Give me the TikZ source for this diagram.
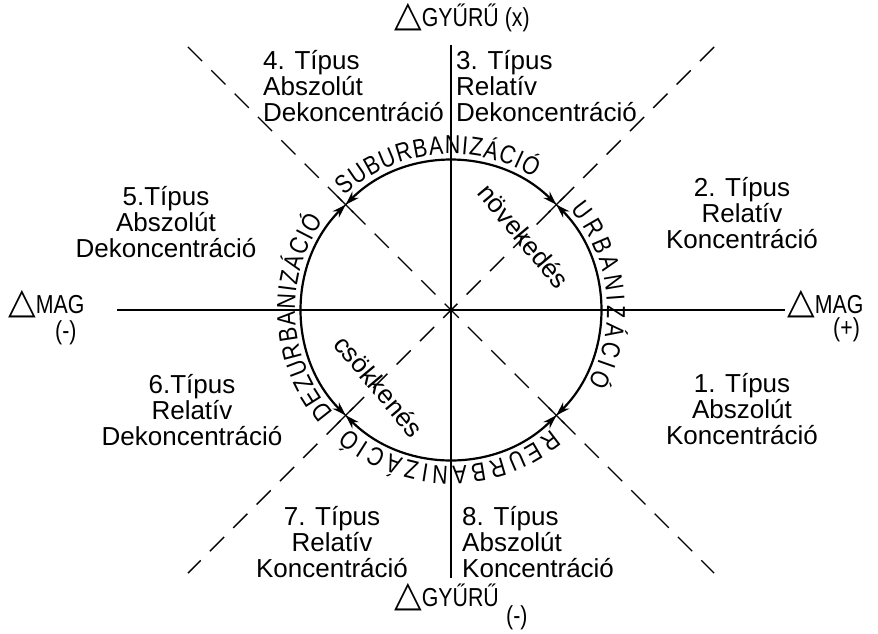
\documentclass[tikz,border=0pt]{standalone}
\usepackage{fontspec}
\setmainfont{Liberation Sans}
\newfontfamily\dejavu{DejaVu Sans}
\newfontfamily\arcfam{Liberation Sans}[FakeStretch=0.82]
\usetikzlibrary{arrows.meta,decorations.text,calc}
\newcommand\lblfont{\fontsize{26}{26}\selectfont}
\newcommand\arcfont{\arcfam\fontsize{26}{26}\selectfont}
\newcommand\axfont{\arcfam\fontsize{26}{26}\selectfont}
\newcommand\tri{{\dejavu\fontsize{36}{36}\selectfont △}}
\begin{document}
\begin{tikzpicture}[x=1pt,y=1pt,
  thinline/.style={line width=1.3pt},
  circ/.style={line width=2.2pt},
  dashline/.style={line width=1.4pt, dash pattern=on 20pt off 13pt},
  twoway/.style={circ,{Stealth[length=14pt,width=9pt]}-{Stealth[length=14pt,width=9pt]}},
  lbl/.style={inner sep=0pt, font=\lblfont},
  ax/.style={inner sep=0pt, font=\axfont, anchor=base west},
  arctext/.style={decorate, decoration={text along path, text align=fit to path}},
]
\useasboundingbox (0,0) rectangle (878,-633);
\coordinate (O) at (451,-310);
% axes
\coordinate (hl) at (117,-310);
\coordinate (hr) at (785,-310);
\coordinate (vt) at (451,-45);
\coordinate (vb) at (451,-578);
\draw[thinline] (hl) -- (hr);
\draw[thinline] (vt) -- (vb);
% diagonals
\coordinate (dNW) at ($(O)+(135:372)$);
\coordinate (dSE) at ($(O)+(-45:372)$);
\coordinate (dNE) at ($(O)+(45:372)$);
\coordinate (dSW) at ($(O)+(225:372)$);
\draw[dashline] (dNW) -- (dSE);
\draw[dashline] (dNE) -- (dSW);
\begin{scope}[shift={(O)}]
  \draw[twoway] (45:149) arc[start angle=45,end angle=135,radius=149];
  \draw[twoway] (135:149) arc[start angle=135,end angle=225,radius=149];
  \draw[twoway] (225:149) arc[start angle=225,end angle=315,radius=149];
  \draw[twoway] (315:149) arc[start angle=315,end angle=405,radius=149];
  \foreach \a in {45,135,225,315}{
    \draw[thinline] ($(\a:149)+(\a+90:11)$) -- ($(\a:149)+(\a-90:11)$);
    \draw[thinline] (\a:138) -- (\a:161);
  }
  \path[arctext, decoration={text={|\arcfont|SUBURBANIZÁCIÓ}}]
    (133:156) arc[start angle=133,end angle=58,radius=156];
  \path[arctext, decoration={text={|\arcfont|URBANIZÁCIÓ}}]
    (40:156) arc[start angle=40,end angle=-28,radius=156];
  \path[arctext, decoration={text={|\arcfont|REURBANIZÁCIÓ}}]
    (-50:156) arc[start angle=-50,end angle=-131,radius=156];
  \path[arctext, decoration={text={|\arcfont|DEZURBANIZÁCIÓ}}]
    (221:156) arc[start angle=221,end angle=145,radius=156];
\end{scope}
% inner texts
\node[lbl, rotate=-50] (nov) at (524,-236) {növekedés};
\node[lbl, rotate=-50] (csok) at (379,-386) {csökkenés};
% type labels
\node[lbl, anchor=west, align=left] (t4) at (263,-86) {4. Típus\\Abszolút\\Dekoncentráció};
\node[lbl, anchor=west, align=left] (t3) at (456,-86) {3. Típus\\Relatív\\Dekoncentráció};
\node[lbl, align=center] (t2) at (742,-213) {2. Típus\\Relatív\\Koncentráció};
\node[lbl, align=center] (t1) at (742,-409) {1. Típus\\Abszolút\\Koncentráció};
\node[lbl, align=center] (t5) at (166,-222) {5.Típus\\Abszolút\\Dekoncentráció};
\node[lbl, align=center] (t6) at (192,-410) {6.Típus\\Relatív\\Dekoncentráció};
\node[lbl, align=center] (t7) at (332,-542) {7. Típus\\Relatív\\Koncentráció};
\node[lbl, anchor=west, align=left] (t8) at (462,-542) {8. Típus\\Abszolút\\Koncentráció};
% axis labels
\node[ax] (gt) at (394,-26) {\tri GYŰRŰ (x)};
\node[ax] (gb) at (394,-606) {\tri GYŰRŰ};
\node[ax] (gbs) at (506,-624) {(-)};
\node[ax] (ml) at (8,-313) {\tri MAG};
\node[ax] (mls) at (55,-339) {(-)};
\node[ax] (mr) at (787,-313) {\tri MAG};
\node[ax] (mrs) at (833,-336) {(+)};
\end{tikzpicture}
\end{document}
